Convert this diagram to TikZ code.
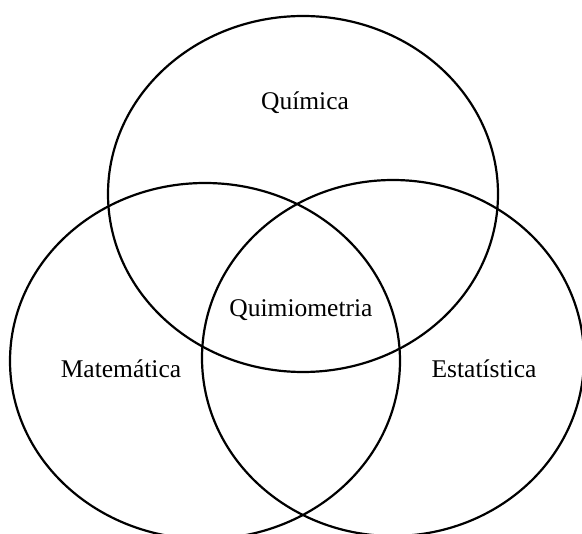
\documentclass[tikz,border=0pt]{standalone}
\usepackage{fontspec}
\setmainfont{Liberation Serif}
\usetikzlibrary{shapes.geometric}
\tikzset{
  venn/.style={draw,ellipse,line width=2.2pt,minimum width=390pt,minimum height=356pt,inner sep=0pt},
  lbl/.style={font=\fontsize{25.5}{30}\selectfont,anchor=base,inner sep=0pt}
}
\begin{document}
\begin{tikzpicture}[x=1pt,y=-1pt]
  % frame of the picture
  \path[use as bounding box,fill=white] (0,0) rectangle (582,534);
  \clip (0,0) rectangle (582,534);

  % the three sets
  \node[venn] (quim) at (303,194) {};
  \node[venn] (mat) at (205,361) {};
  \node[venn,minimum width=382pt] (est) at (393,358) {};

  % labels
  \node[lbl] (lquim) at (305,110) {Química};
  \node[lbl] (lqm) at (301,317) {Quimiometria};
  \node[lbl] (lmat) at (121,378) {Matemática};
  \node[lbl] (lest) at (484,378) {Estatística};
\end{tikzpicture}
\end{document}
